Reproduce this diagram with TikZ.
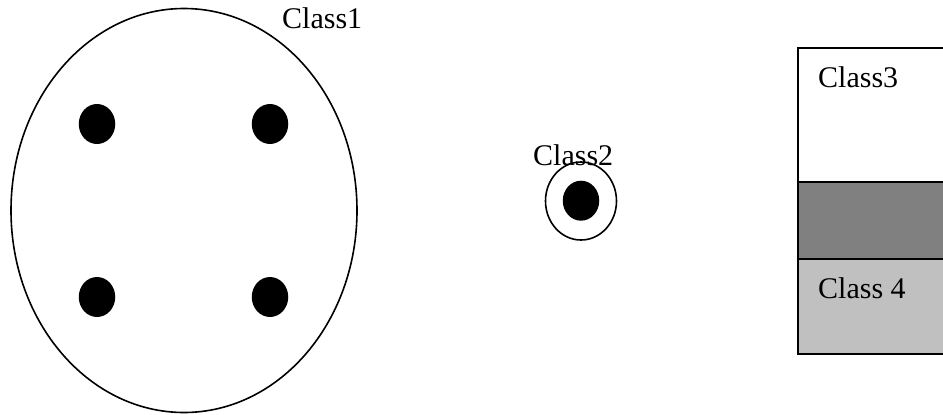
\documentclass[tikz,border=0pt]{standalone}
\usepackage{fontspec}
\setmainfont{Liberation Serif}
\usetikzlibrary{shapes.geometric}
\begin{document}
\begin{tikzpicture}[x=1pt,y=-1pt,
  lbl/.style={inner sep=0pt,anchor=base west,font=\fontsize{30}{36}\selectfont},
  outl/.style={draw=black,line width=1.6pt,ellipse,inner sep=0pt},
  blob/.style={fill=black,ellipse,inner sep=0pt,minimum width=36.5pt,minimum height=40pt},
  band/.style={draw=black,line width=1.5pt,rectangle,inner sep=0pt,minimum width=170pt,anchor=north west}]
\useasboundingbox (0,0) rectangle (943,415);
\clip (0,0) rectangle (943,415);
\fill[white] (0,0) rectangle (943,415);
% Class1
\node[outl,minimum width=346pt,minimum height=404pt] (c1) at (184,210.5) {};
\node[blob] (d1) at (97,124) {};
\node[blob] (d2) at (270,124) {};
\node[blob] (d3) at (97,297) {};
\node[blob] (d4) at (270,297) {};
\node[lbl] (t1) at (282,28) {Class1};
% Class2
\node[outl,minimum width=71pt,minimum height=78pt] (c2) at (581,201) {};
\node[blob] (d5) at (581,200.7) {};
\node[lbl] (t2) at (533,165) {Class2};
% Class3 / Class 4 box
\node[band,fill=white,minimum height=134pt] (b1) at (797,47) {};
\node[band,fill={rgb,255:red,128;green,128;blue,128},minimum height=77pt] (b2) at (797,181) {};
\node[band,fill={rgb,255:red,192;green,192;blue,192},minimum height=95pt] (b3) at (797,258) {};
\node[lbl] (t3) at (818,87) {Class3};
\node[lbl] (t4) at (818,298) {Class 4};
\end{tikzpicture}
\end{document}
